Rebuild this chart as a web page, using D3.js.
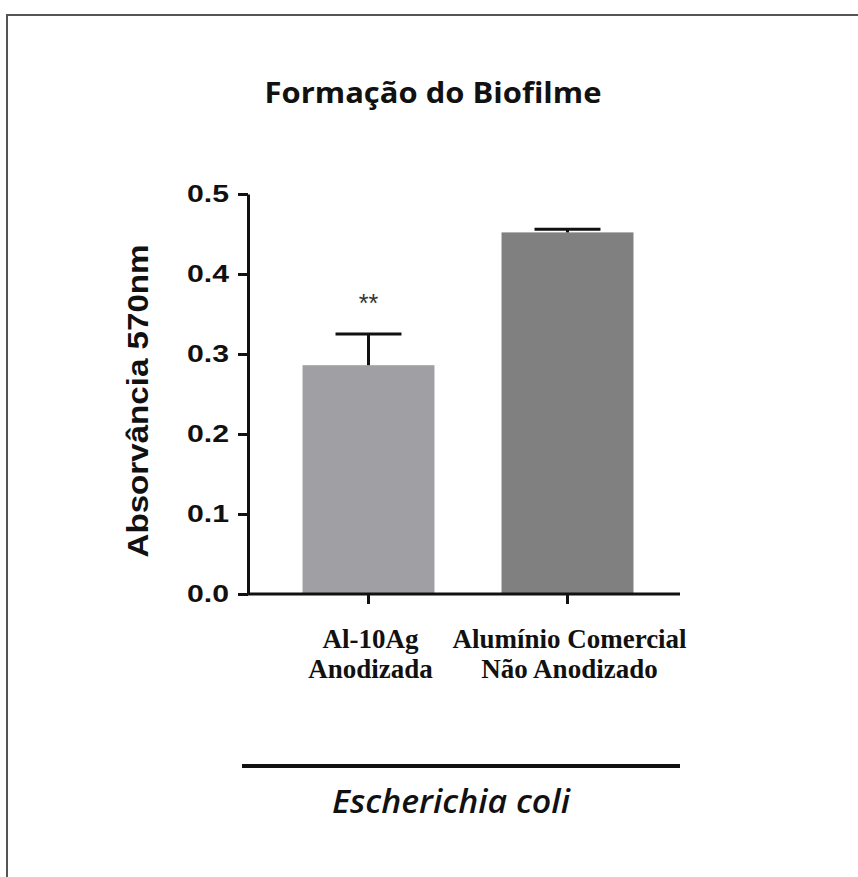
<!DOCTYPE html>
<html>
<head>
<meta charset="utf-8">
<script src="https://cdn.jsdelivr.net/npm/d3@7"></script>
<style>
  body { margin: 0; background: #fff; }
  svg { display: block; }
</style>
</head>
<body>
<svg id="chart" width="858" height="877"></svg>
<script>
// data
var categories = ["Al-10Ag|Anodizada", "Alumínio Comercial|Não Anodizado"];
var means = [0.286, 0.452];
var errors = [0.039, 0.004];
var marks = ["**", ""];
var yTicks = [0.0, 0.1, 0.2, 0.3, 0.4, 0.5];
var barColors = ["#a0a0a4", "#808080"];

var svg = d3.select("#chart");

// frame of the original figure (runs off the right and bottom)
svg.append("rect")
    .attr("x", 7).attr("y", 15)
    .attr("width", 900).attr("height", 900)
    .attr("fill", "none")
    .attr("stroke", "#555")
    .attr("stroke-width", 2);

var y = d3.scaleLinear().domain([0, 0.5]).range([594, 194]);
var x = d3.scaleBand()
    .domain(categories)
    .range([269, 667])
    .paddingInner(0.337)
    .paddingOuter(0.1685);

// bars
svg.selectAll(".bar")
    .data(categories)
    .enter()
    .append("rect")
    .attr("class", "bar")
    .attr("x", function (d) { return x(d); })
    .attr("width", x.bandwidth())
    .attr("y", function (d, i) { return y(means[i]); })
    .attr("height", function (d, i) { return y(0) - y(means[i]); })
    .attr("fill", function (d, i) { return barColors[i]; });

// error bars (upper only)
var capHalf = x.bandwidth() / 4;
categories.forEach(function (c, i) {
    var cx = x(c) + x.bandwidth() / 2;
    var top = y(means[i] + errors[i]);
    svg.append("line")
        .attr("x1", cx).attr("x2", cx)
        .attr("y1", y(means[i])).attr("y2", top)
        .attr("stroke", "#111").attr("stroke-width", 3);
    svg.append("line")
        .attr("x1", cx - capHalf).attr("x2", cx + capHalf)
        .attr("y1", top).attr("y2", top)
        .attr("stroke", "#111").attr("stroke-width", 3);
    if (marks[i]) {
        svg.append("text")
            .attr("x", cx)
            .attr("y", top - 22)
            .attr("text-anchor", "middle")
            .style("font-family", "Liberation Sans, Arial, sans-serif")
            .style("font-size", "25px")
            .attr("fill", "#333")
            .text(marks[i]);
    }
});

// y axis
var yAxis = svg.append("g")
    .attr("transform", "translate(248,0)")
    .call(d3.axisLeft(y).tickValues(yTicks).tickFormat(d3.format(".1f"))
        .tickSize(10).tickSizeOuter(0).tickPadding(9));
yAxis.select(".domain").attr("stroke", "#111").attr("stroke-width", 3);
yAxis.selectAll(".tick line").attr("stroke", "#111").attr("stroke-width", 3);
yAxis.selectAll(".tick text")
    .style("font-family", "Liberation Sans, Arial, sans-serif")
    .style("font-weight", "bold")
    .style("font-size", "24px")
    .attr("fill", "#111")
    .attr("textLength", 42)
    .attr("lengthAdjust", "spacingAndGlyphs");

// x axis
var xAxis = svg.append("g")
    .attr("transform", "translate(0,594)")
    .call(d3.axisBottom(x).tickSize(10).tickSizeOuter(0).tickFormat(""));
xAxis.select(".domain").remove();
xAxis.selectAll(".tick line").attr("stroke", "#111").attr("stroke-width", 3);
xAxis.append("line")
    .attr("x1", 248).attr("x2", 680)
    .attr("y1", 0).attr("y2", 0)
    .attr("stroke", "#111").attr("stroke-width", 3);

// category labels, two lines each
xAxis.selectAll(".tick").each(function (d) {
    var t = d3.select(this).append("text")
        .attr("text-anchor", "middle")
        .attr("fill", "#111")
        .style("font-family", "Liberation Serif, DejaVu Serif, serif")
        .style("font-weight", "bold")
        .style("font-size", "27px");
    d.split("|").forEach(function (line, k) {
        t.append("tspan")
            .attr("x", 2)
            .attr("y", 54 + k * 30)
            .text(line);
    });
});

// y title
svg.append("text")
    .attr("transform", "translate(148,401) rotate(-90)")
    .attr("text-anchor", "middle")
    .attr("fill", "#111")
    .style("font-family", "Liberation Sans, Arial, sans-serif")
    .style("font-weight", "bold")
    .style("font-size", "29px")
    .attr("textLength", 313)
    .attr("lengthAdjust", "spacingAndGlyphs")
    .text("Absorvância 570nm");

// chart title
svg.append("text")
    .attr("x", 433)
    .attr("y", 103)
    .attr("text-anchor", "middle")
    .attr("fill", "#111")
    .style("font-family", "Open Sans, Noto Sans, sans-serif")
    .style("font-weight", "bold")
    .style("font-size", "28px")
    .attr("textLength", 337)
    .attr("lengthAdjust", "spacingAndGlyphs")
    .text("Formação do Biofilme");

// group bar under the categories
svg.append("line")
    .attr("x1", 242).attr("x2", 680)
    .attr("y1", 766).attr("y2", 766)
    .attr("stroke", "#111").attr("stroke-width", 4);

svg.append("text")
    .attr("x", 451)
    .attr("y", 813)
    .attr("text-anchor", "middle")
    .attr("fill", "#111")
    .style("font-family", "Open Sans, Noto Sans, sans-serif")
    .style("font-style", "italic")
    .style("font-weight", "600")
    .style("font-size", "33px")
    .attr("textLength", 238)
    .attr("lengthAdjust", "spacingAndGlyphs")
    .text("Escherichia coli");
</script>
</body>
</html>
